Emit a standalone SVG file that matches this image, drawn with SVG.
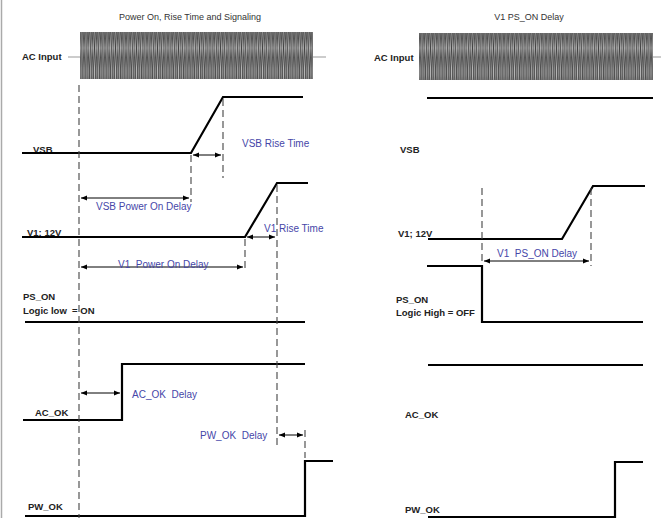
<svg xmlns="http://www.w3.org/2000/svg" width="661" height="518" viewBox="0 0 661 518">
<style>
text{white-space:pre}
.lbl{font-family:"Liberation Sans",Arial,sans-serif;font-size:9.5px;font-weight:bold;fill:#222}
.ttl{font-family:"Liberation Sans",Arial,sans-serif;font-size:9px;fill:#333}
.ann{font-family:"Liberation Sans",Arial,sans-serif;font-size:10px;fill:#4646a8}
.sig{fill:none;stroke:#000;stroke-width:2.2}
.dash{fill:none;stroke:#444;stroke-width:1.1;stroke-dasharray:7,4}
.arr{fill:none;stroke:#000;stroke-width:1;marker-start:url(#ah);marker-end:url(#ah)}
.gl{stroke:#999;stroke-width:1}
</style>
<defs>
<marker id="ah" viewBox="0 0 10 10" refX="10" refY="5" markerWidth="6" markerHeight="6" orient="auto-start-reverse" markerUnits="userSpaceOnUse">
<path d="M0,1 L10,5 L0,9 Z" fill="#000"/>
</marker>
<pattern id="noise" width="4.2" height="48" patternUnits="userSpaceOnUse">
<rect width="4.2" height="48" fill="#b4b4b4"/>
<path d="M0,0 L2.1,48 M2.1,0 L4.2,48 M2.1,0 L0,48 M4.2,0 L2.1,48" stroke="#404040" stroke-width="0.8"/>
</pattern>
</defs>
<rect width="661" height="518" fill="#fff"/>
<line x1="1.5" y1="0" x2="1.5" y2="518" stroke="#aaa" stroke-width="1.5"/>

<g id="titles">
<text class="ttl" x="190" y="20" text-anchor="middle">Power On, Rise Time and Signaling</text>
<text class="ttl" x="529" y="20" text-anchor="middle">V1 PS_ON Delay</text>
</g>

<g id="left-ac-input">
<text class="lbl" x="22" y="60">AC Input</text>
<line class="gl" x1="68" y1="57" x2="80" y2="57"/>
<line class="gl" x1="313" y1="57" x2="326" y2="57"/>
<rect x="80" y="32" width="233" height="47" fill="url(#noise)"/>
</g>
<g id="left-vsb">
<text class="lbl" x="33" y="153">VSB</text>
<polyline class="sig" points="22,153 191,153 223,97 303,97"/>
</g>
<g id="left-v1">
<text class="lbl" x="27" y="236">V1; 12V</text>
<polyline class="sig" points="22,237 245,237 277,183 308,183"/>
</g>
<g id="left-ps-on">
<text class="lbl" x="23" y="300">PS_ON</text>
<text class="lbl" x="23" y="314">Logic low  = ON</text>
<line class="sig" x1="25" y1="322" x2="305" y2="322"/>
</g>
<g id="left-ac-ok">
<text class="lbl" x="35" y="416">AC_OK</text>
<polyline class="sig" points="23,420 122,420 122,364 305,364"/>
</g>
<g id="left-pw-ok">
<text class="lbl" x="28" y="510">PW_OK</text>
<polyline class="sig" points="25,516 305,516 305,461 333,461"/>
</g>

<g id="right-ac-input">
<text class="lbl" x="374" y="61">AC Input</text>
<line class="gl" x1="653" y1="57" x2="661" y2="57"/>
<rect x="419" y="33" width="234" height="47" fill="url(#noise)"/>
</g>
<g id="right-vsb">
<text class="lbl" x="400" y="153">VSB</text>
<line class="sig" x1="427" y1="98" x2="653" y2="98"/>
</g>
<g id="right-v1">
<text class="lbl" x="398" y="237">V1; 12V</text>
<polyline class="sig" points="428,239 562,239 593,186 645,186"/>
</g>
<g id="right-ps-on">
<text class="lbl" x="396" y="303">PS_ON</text>
<text class="lbl" x="396" y="316">Logic High = OFF</text>
<polyline class="sig" points="427,266 482,266 482,322 643,322"/>
</g>
<g id="right-ac-ok">
<text class="lbl" x="405" y="418">AC_OK</text>
<line class="sig" x1="428" y1="365" x2="643" y2="365"/>
</g>
<g id="right-pw-ok">
<text class="lbl" x="405" y="513">PW_OK</text>
<polyline class="sig" points="428,517 615,517 615,462 643,462"/>
</g>

<g id="connectors">
<line class="dash" x1="79" y1="85" x2="79" y2="518"/>
<line class="dash" x1="191" y1="155" x2="191" y2="202"/>
<line class="dash" x1="223" y1="99" x2="223" y2="178"/>
<line class="dash" x1="245" y1="239" x2="245" y2="272"/>
<line class="dash" x1="277" y1="185" x2="277" y2="446"/>
<line class="dash" x1="305" y1="430" x2="305" y2="458"/>
<line class="dash" x1="482" y1="188" x2="482" y2="264"/>
<line class="dash" x1="591" y1="188" x2="591" y2="266"/>
<line class="arr" x1="193" y1="155" x2="221" y2="155"/>
<line class="arr" x1="81" y1="198" x2="189" y2="198"/>
<line class="arr" x1="247" y1="237" x2="275" y2="237"/>
<line class="arr" x1="81" y1="267" x2="243" y2="267"/>
<line class="arr" x1="81" y1="393" x2="120" y2="393"/>
<line class="arr" x1="279" y1="435" x2="303" y2="435"/>
<line class="arr" x1="484" y1="261" x2="589" y2="261"/>
</g>

<g id="annotations">
<text class="ann" x="242" y="147">VSB Rise Time</text>
<text class="ann" x="96" y="210">VSB Power On Delay</text>
<text class="ann" x="264" y="232">V1 Rise Time</text>
<text class="ann" x="118" y="268">V1  Power On Delay</text>
<text class="ann" x="132" y="398">AC_OK  Delay</text>
<text class="ann" x="200" y="439">PW_OK  Delay</text>
<text class="ann" x="497" y="257">V1  PS_ON Delay</text>
</g>
</svg>
